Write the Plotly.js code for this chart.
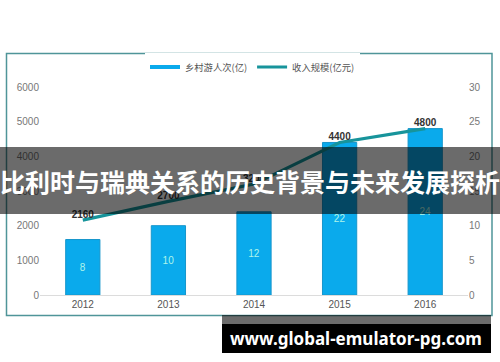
<!DOCTYPE html>
<html>
<head>
<meta charset="utf-8">
<script src="https://cdn.plot.ly/plotly-3.0.1.min.js"></script>
<style>html,body{margin:0;padding:0;background:#fff;}#chart{width:500px;height:362px;}</style>
</head>
<body>
<div id="chart"></div>
<script>
const years = ['2012', '2013', '2014', '2015', '2016'];
const visitors = [8, 10, 12, 22, 24];            // 乡村游人次(亿) - bars, right axis
const revenue = [2160, 2700, 3200, 4400, 4800];  // 收入规模(亿元) - line, left axis
const leftTicks = [0, 1000, 2000, 3000, 4000, 5000, 6000];
const rightTicks = [0, 5, 10, 15, 20, 25, 30];
const barName = '乡村游人次(亿)';
const lineName = '收入规模(亿元)';
const bannerText = '比利时与瑞典关系的历史背景与未来发展探析';
const watermark = 'www.global-emulator-pg.com';

const H = 362, W = 500;
const py = v => (H - v) / H;
const px = v => v / W;

const cjk = '"Noto Sans CJK SC", "Liberation Sans", sans-serif';
const BAR = '#0aaaec';
const LINE = '#17949b';

const traces = [
  { type: 'scatter', x: [null], y: [null], mode: 'lines', name: barName,
    line: { color: BAR, width: 4 }, xaxis: 'x', yaxis: 'y', hoverinfo: 'skip' },
  { type: 'bar', x: years, y: visitors, name: barName, showlegend: false,
    xaxis: 'x', yaxis: 'y', width: 0.4,
    marker: { color: BAR, line: { color: '#1796cc', width: 1 } },
    text: visitors.map(String), textposition: 'inside', insidetextanchor: 'middle',
    textfont: { color: '#aef5ea', size: 10, family: 'Liberation Sans, sans-serif' } },
  { type: 'scatter', x: years, y: revenue, name: lineName, mode: 'lines+text',
    xaxis: 'x', yaxis: 'y2',
    line: { color: LINE, width: 3.2 },
    text: revenue.map(String), textposition: 'top center',
    textfont: { color: '#333', size: 10, family: 'Liberation Sans, sans-serif', weight: 'bold' } }
];

const layout = {
  width: W, height: H,
  margin: { l: 0, r: 0, t: 0, b: 0 },
  paper_bgcolor: '#fff', plot_bgcolor: 'rgba(0,0,0,0)',
  font: { family: 'Liberation Sans, sans-serif', color: '#666', size: 10 },
  xaxis: { domain: [px(40), px(468)], type: 'category', showgrid: false, zeroline: false,
    showline: true, linecolor: '#dcdcdc', linewidth: 1, ticks: '',
    tickfont: { size: 10, color: '#555' } },
  yaxis: { domain: [py(295), py(87)], side: 'right', range: [0, 30], tickvals: rightTicks,
    showgrid: false, zeroline: false, showline: false, ticks: '',
    tickfont: { size: 10, color: '#777' } },
  yaxis2: { overlaying: 'y', side: 'left', range: [0, 6000], tickvals: leftTicks,
    showgrid: false, zeroline: false, showline: false, ticks: '',
    tickfont: { size: 10, color: '#777' } },
  showlegend: true,
  legend: { orientation: 'h', x: 0.505, xanchor: 'center', y: py(67), yanchor: 'middle',
    font: { family: cjk, size: 9.3, color: '#555' }, itemwidth: 30, tracegroupgap: 0 },
  shapes: [
    { type: 'rect', xref: 'paper', yref: 'paper', x0: px(6.5), x1: px(492), y0: py(315.5), y1: py(53.5),
      line: { color: '#4f9599', width: 1.5 }, fillcolor: 'rgba(0,0,0,0)', layer: 'below' },
    { type: 'rect', xref: 'paper', yref: 'paper', x0: 0, x1: 1, y0: py(214), y1: py(147),
      line: { width: 0 }, fillcolor: 'rgba(0,0,0,0.58)', layer: 'above' },
    { type: 'rect', xref: 'paper', yref: 'paper', x0: px(222), x1: px(491), y0: py(324), y1: py(315),
      line: { width: 0 }, fillcolor: 'rgba(0,0,0,0.58)', layer: 'above' },
    { type: 'rect', xref: 'paper', yref: 'paper', x0: px(222), x1: px(491), y0: py(353), y1: py(324),
      line: { width: 0 }, fillcolor: '#000', layer: 'above' }
  ],
  annotations: [
    { xref: 'paper', yref: 'paper', x: 0.5, y: py(181), xanchor: 'center', yanchor: 'middle',
      text: bannerText, showarrow: false,
      font: { family: cjk, size: 25, color: '#fff', weight: 'bold' } },
    { xref: 'paper', yref: 'paper', x: px(356), y: py(338.5), xanchor: 'center', yanchor: 'middle',
      text: watermark, showarrow: false,
      font: { family: '"Noto Sans", sans-serif', size: 17, color: '#fff', weight: 'bold' } }
  ]
};

Plotly.newPlot('chart', traces, layout, { displayModeBar: false, staticPlot: true });
</script>
</body>
</html>
